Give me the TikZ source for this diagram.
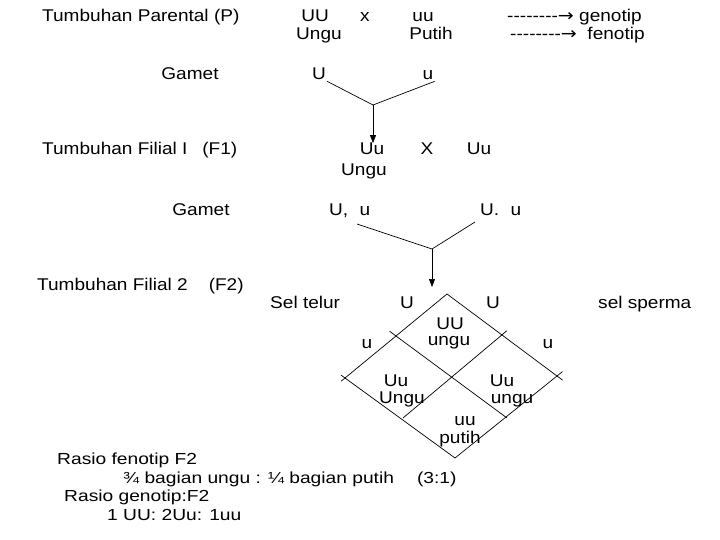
\documentclass[tikz,border=0pt]{standalone}
\usepackage{fontspec}
\setmainfont{Liberation Sans}
\newfontfamily\arrowfont{DejaVu Sans}
\usetikzlibrary{arrows.meta}

\newcommand{\dashline}{-{}-{}-{}-{}-{}-{}-{}-{\arrowfont →}}

\begin{document}
\begin{tikzpicture}[
        x=1pt, y=-1pt,
        txt/.style={font=\fontsize{17}{20}\selectfont, xscale=1.12, inner sep=0pt, anchor=base},
        lbl/.style={txt, anchor=base west},
        note/.style={font=\fontsize{16}{19}\selectfont, xscale=1.2, inner sep=0pt, anchor=base west},
        ln/.style={line width=0.7pt},
        arr/.style={ln, -{Triangle[length=8pt,width=6pt]}}
    ]
    \useasboundingbox (0,0) rectangle (720,540);

    % parental
    \node[lbl] (parent) at (42,22) {Tumbuhan Parental (P)};
    \node[txt] (pUU) at (315,22) {UU};
    \node[txt] (pcross) at (365,22) {x};
    \node[txt] (puu) at (423,22) {uu};
    \node[lbl] (genotip) at (507,22) {\dashline\ genotip};
    \node[txt] (pUngu) at (319,40) {Ungu};
    \node[txt] (pPutih) at (431,40) {Putih};
    \node[lbl] (fenotip) at (510,40) {\dashline\ \ fenotip};

    % gamet 1
    \node[txt] (gamet1) at (190,80) {Gamet};
    \node[txt, inner sep=1pt] (g1U) at (319,80) {U};
    \node[txt, inner sep=1pt] (g1u) at (428,80) {u};
    \coordinate (j1) at (373,105);
    \draw[ln] (g1U.south east) -- (j1);
    \draw[ln] (g1u.south east) -- (j1);

    % F1
    \node[lbl] (filial1) at (42,155) {Tumbuhan Filial I\hspace{0.5em} (F1)};
    \node[txt] (f1a) at (372,155) {Uu};
    \node[txt] (f1cross) at (427,155) {X};
    \node[txt] (f1b) at (479,155) {Uu};
    \node[txt] (f1Ungu) at (364,176) {Ungu};
    \draw[arr] (j1) -- (j1 |- f1a.north);

    % gamet 2
    \node[txt] (gamet2) at (201,215) {Gamet};
    \node[lbl] (g2a) at (329,215) {U,\hspace{0.6em}u};
    \node[lbl] (g2b) at (480,215) {U.\hspace{0.6em}u};
    \coordinate (j2) at (432,249);
    \coordinate (s2a) at (357,224);
    \coordinate (s2b) at (475,222);
    \coordinate (f2in) at (432,287);
    \draw[ln] (s2a) -- (j2);
    \draw[ln] (s2b) -- (j2);
    \draw[arr] (j2) -- (f2in);

    % F2
    \node[lbl] (filial2) at (37,290) {Tumbuhan Filial 2\hspace{1.1em}(F2)};
    \node[lbl] (telur) at (270,308) {Sel telur};
    \node[txt] (eU) at (407,308) {U};
    \node[txt] (sU) at (493,308) {U};
    \node[lbl] (sperma) at (598,308) {sel sperma};
    \node[txt] (eu) at (367,348) {u};
    \node[txt] (su) at (548,348) {u};

    % punnett grid
    \coordinate (T) at (447,294);
    \coordinate (L) at (345,378);
    \coordinate (R) at (557,376);
    \coordinate (B) at (455,458);
    \coordinate (ULm) at (396,336);
    \coordinate (URm) at (503,334);
    \coordinate (LLm) at (403,418);
    \coordinate (LRm) at (507,418);
    \draw[ln, shorten >=-7pt] (T) -- (R);
    \draw[ln, shorten <=-8pt] (ULm) -- (LRm);
    \draw[ln, shorten <=-5pt] (L) -- (B);
    \draw[ln, shorten >=-5pt] (T) -- (L);
    \draw[ln, shorten <=-5pt] (URm) -- (LLm);
    \draw[ln, shorten <=-7pt] (R) -- (B);

    \node[txt] (c1) at (450,329) {UU};
    \node[txt] (c1f) at (449,345) {ungu};
    \node[txt] (c2) at (396,386) {Uu};
    \node[txt] (c2f) at (402,403) {Ungu};
    \node[txt] (c3) at (502,386) {Uu};
    \node[txt] (c3f) at (512,403) {ungu};
    \node[txt] (c4) at (465,425) {uu};
    \node[txt] (c4f) at (460,443) {putih};

    % rasio
    \node[note] (rf) at (57,464) {Rasio fenotip F2};
    \node[note] (rfv) at (123,483) {¾ bagian ungu : ¼ bagian putih\hspace{1.2em}(3:1)};
    \node[note] (rg) at (64,501) {Rasio genotip:F2};
    \node[note] (rgv) at (107,520) {1 UU: 2Uu: 1uu};
\end{tikzpicture}
\end{document}
